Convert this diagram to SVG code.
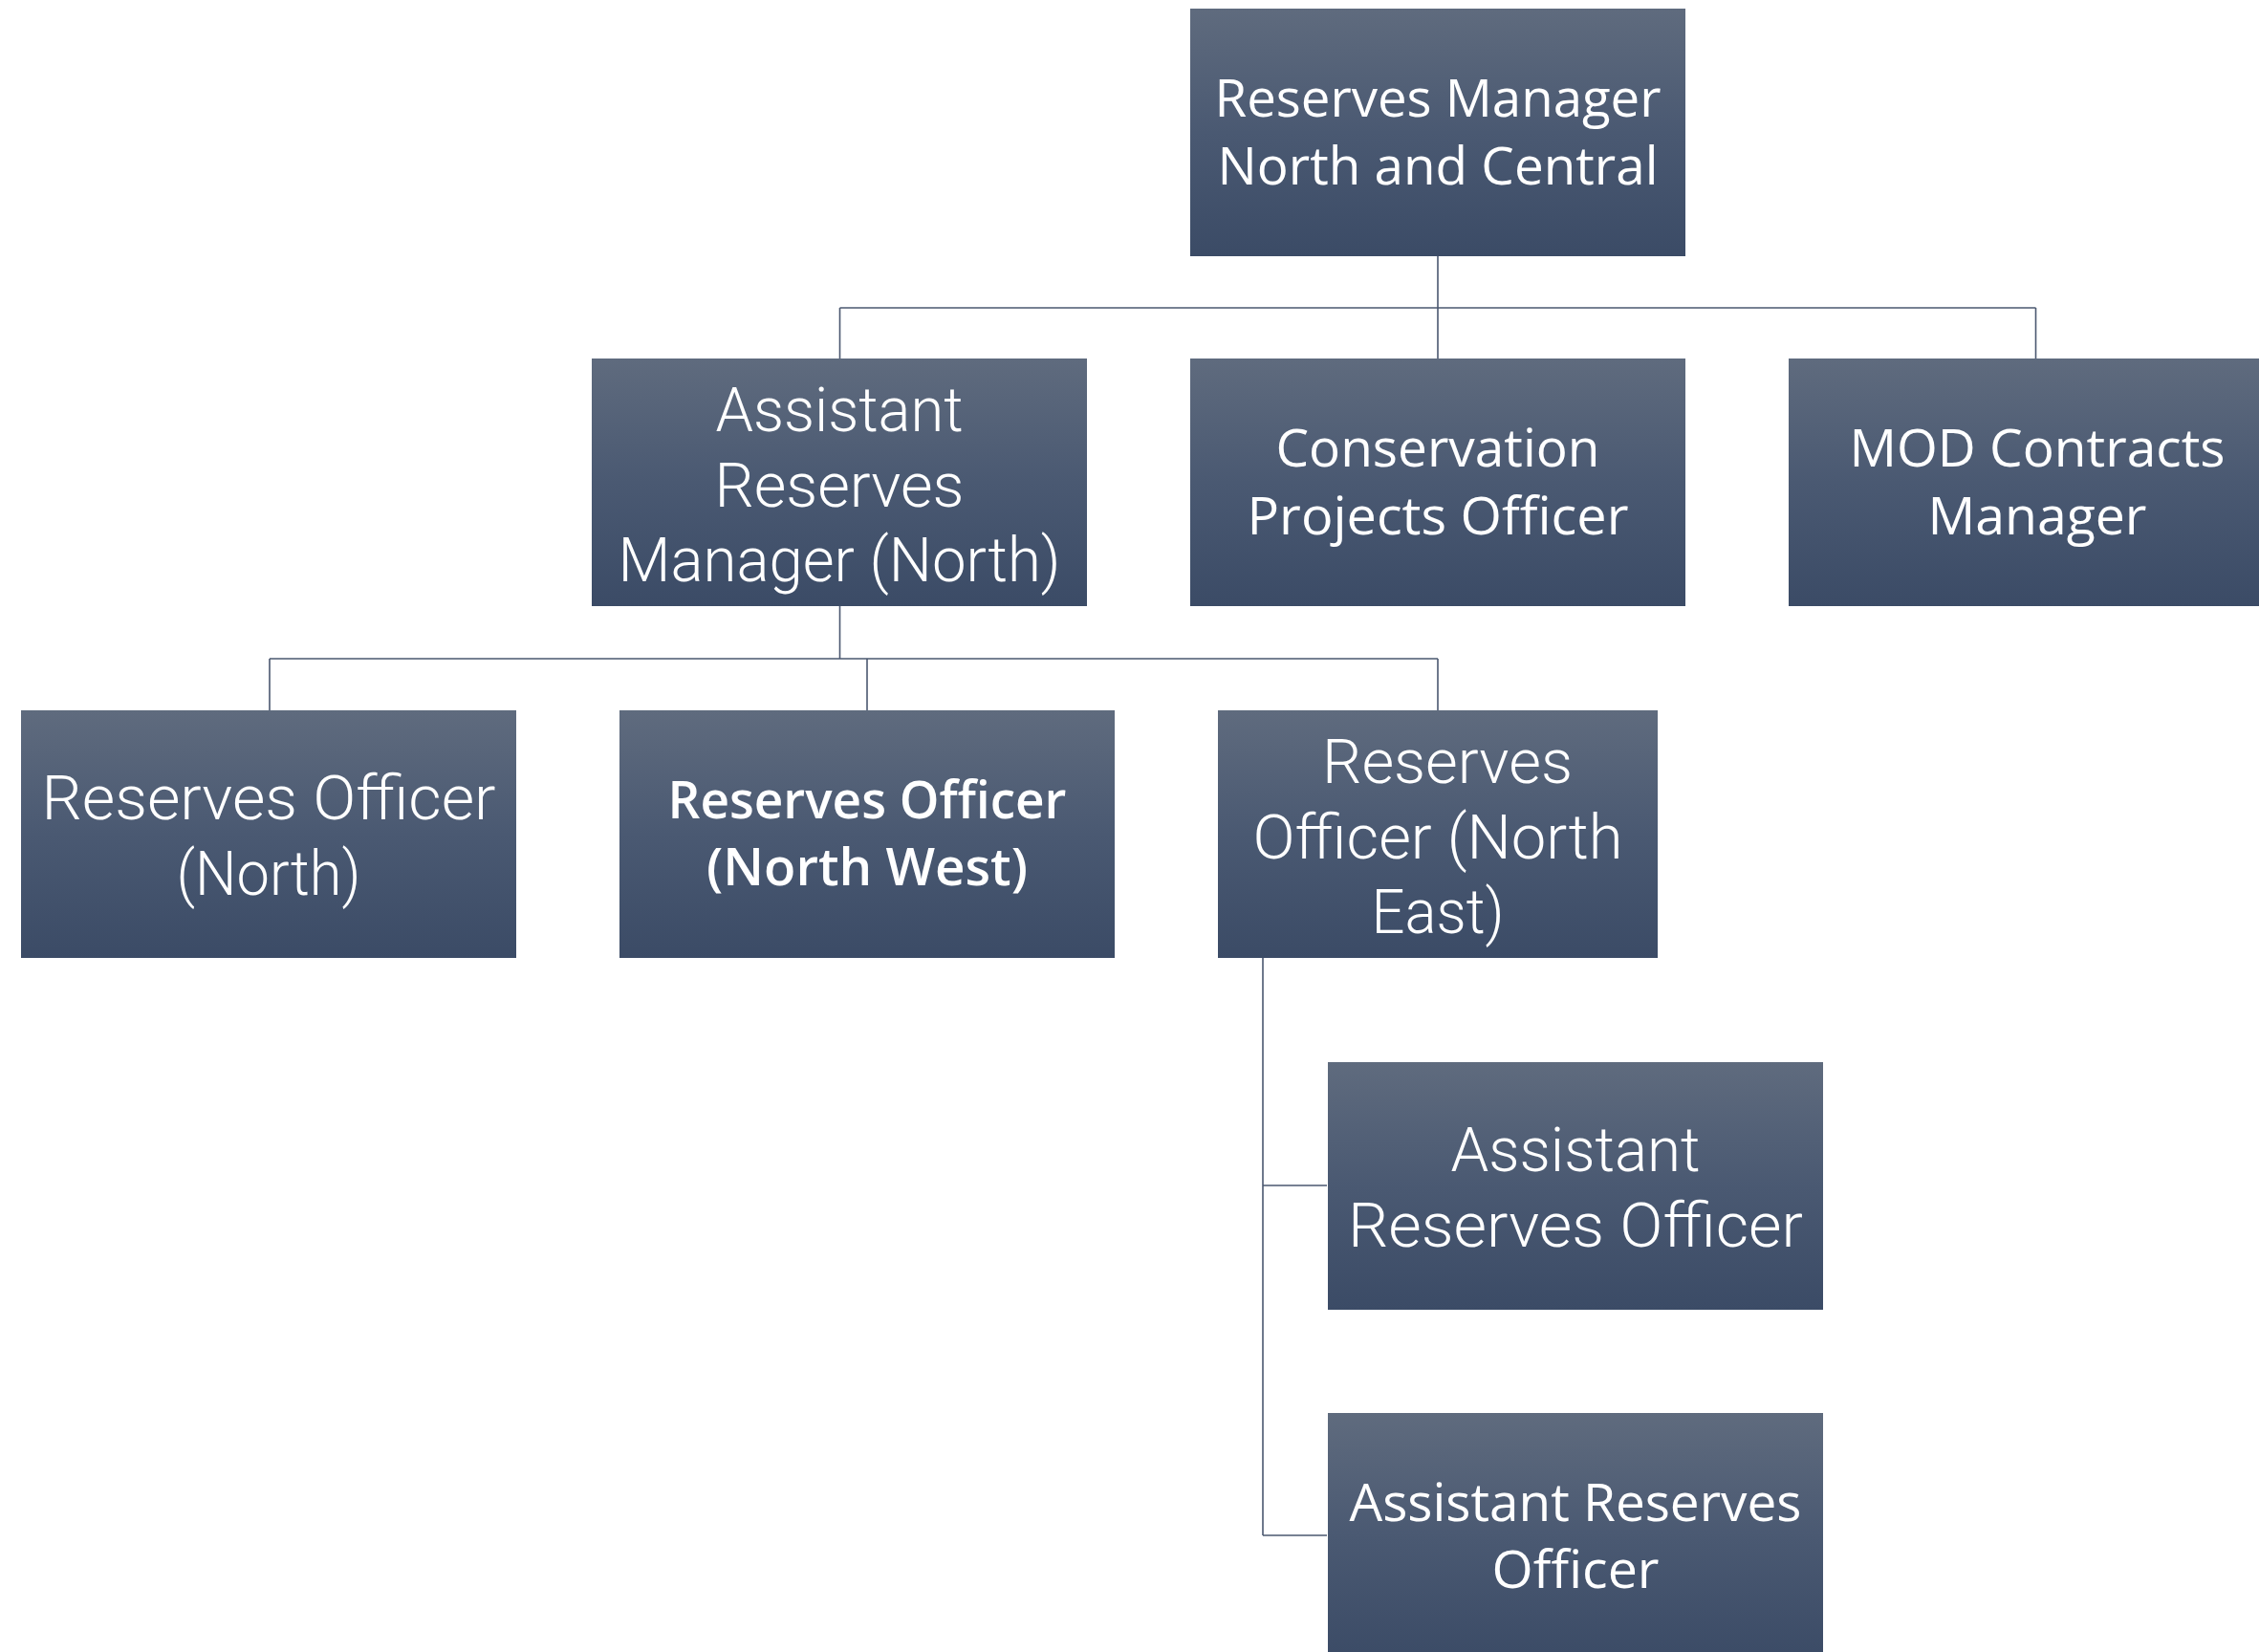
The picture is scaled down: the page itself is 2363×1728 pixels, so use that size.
<svg xmlns="http://www.w3.org/2000/svg" width="2363" height="1728" viewBox="0 0 2363 1728">
<defs>
<linearGradient id="g" x1="0" y1="0" x2="0" y2="1">
<stop offset="0" stop-color="#5F6B7E"/>
<stop offset="0.5" stop-color="#4A5972"/>
<stop offset="1" stop-color="#3B4B66"/>
</linearGradient>
</defs>
<style>
.box{fill:url(#g);}
.c{font-family:"Open Sans","Noto Sans","Liberation Sans",sans-serif;font-size:54px;fill:#FFFFFF;text-anchor:middle;}
.b{font-family:"Open Sans","Noto Sans","Liberation Sans",sans-serif;font-size:54px;font-weight:600;fill:#FFFFFF;text-anchor:middle;}
.l{font-family:Roboto,"Liberation Sans",sans-serif;font-size:64px;font-weight:300;fill:#FFFFFF;text-anchor:middle;}
.conn{fill:none;stroke:#4B5870;stroke-width:1.6;}
</style>
<rect width="2363" height="1728" fill="#FFFFFF"/>
<g id="connectors" class="conn">
<path d="M1504,268 V322 M878.5,322 H2129.5 M878.5,322 V375 M1504,322 V375 M2129.5,322 V375"/>
<path d="M878.5,634 V689 M282,689 H1504 M282,689 V743 M907,689 V743 M1504,689 V743"/>
<path d="M1321,1002 V1606 M1321,1240 H1388 M1321,1606 H1388"/>
</g>
<g id="n-top">
<rect class="box" x="1245" y="9" width="518" height="259"/>
<text class="c" x="1504" y="122" textLength="467" lengthAdjust="spacingAndGlyphs">Reserves Manager</text>
<text class="c" x="1504" y="193" textLength="461" lengthAdjust="spacingAndGlyphs">North and Central</text>
</g>
<g id="n-arm-north">
<rect class="box" x="619" y="375" width="518" height="259"/>
<text class="l" x="878" y="451" textLength="259" lengthAdjust="spacingAndGlyphs">Assistant</text>
<text class="l" x="878" y="530" textLength="261" lengthAdjust="spacingAndGlyphs">Reserves</text>
<text class="l" x="878" y="608" textLength="463" lengthAdjust="spacingAndGlyphs">Manager (North)</text>
</g>
<g id="n-conservation">
<rect class="box" x="1245" y="375" width="518" height="259"/>
<text class="c" x="1504" y="488" textLength="339" lengthAdjust="spacingAndGlyphs">Conservation</text>
<text class="c" x="1504" y="559" textLength="399" lengthAdjust="spacingAndGlyphs">Projects Officer</text>
</g>
<g id="n-mod">
<rect class="box" x="1871" y="375" width="518" height="259"/>
<text class="c" x="2131" y="488" textLength="393" lengthAdjust="spacingAndGlyphs">MOD Contracts</text>
<text class="c" x="2131" y="559" textLength="229" lengthAdjust="spacingAndGlyphs">Manager</text>
</g>
<g id="n-ro-north">
<rect class="box" x="22" y="743" width="518" height="259"/>
<text class="l" x="281" y="857" textLength="475" lengthAdjust="spacingAndGlyphs">Reserves Officer</text>
<text class="l" x="281" y="936" textLength="193" lengthAdjust="spacingAndGlyphs">(North)</text>
</g>
<g id="n-ro-northwest">
<rect class="box" x="648" y="743" width="518" height="259"/>
<text class="b" x="907" y="856" textLength="417" lengthAdjust="spacingAndGlyphs">Reserves Officer</text>
<text class="b" x="907" y="926" textLength="336" lengthAdjust="spacingAndGlyphs">(North West)</text>
</g>
<g id="n-ro-northeast">
<rect class="box" x="1274" y="743" width="460" height="259"/>
<text class="l" x="1514" y="819" textLength="262" lengthAdjust="spacingAndGlyphs">Reserves</text>
<text class="l" x="1504" y="898" textLength="387" lengthAdjust="spacingAndGlyphs">Officer (North</text>
<text class="l" x="1504" y="976" textLength="139" lengthAdjust="spacingAndGlyphs">East)</text>
</g>
<g id="n-aro-1">
<rect class="box" x="1389" y="1111" width="518" height="259"/>
<text class="l" x="1648" y="1225" textLength="261" lengthAdjust="spacingAndGlyphs">Assistant</text>
<text class="l" x="1648" y="1304" textLength="476" lengthAdjust="spacingAndGlyphs">Reserves Officer</text>
</g>
<g id="n-aro-2">
<rect class="box" x="1389" y="1478" width="518" height="259"/>
<text class="c" x="1648" y="1591" textLength="473" lengthAdjust="spacingAndGlyphs">Assistant Reserves</text>
<text class="c" x="1648" y="1661" textLength="175" lengthAdjust="spacingAndGlyphs">Officer</text>
</g>
</svg>
